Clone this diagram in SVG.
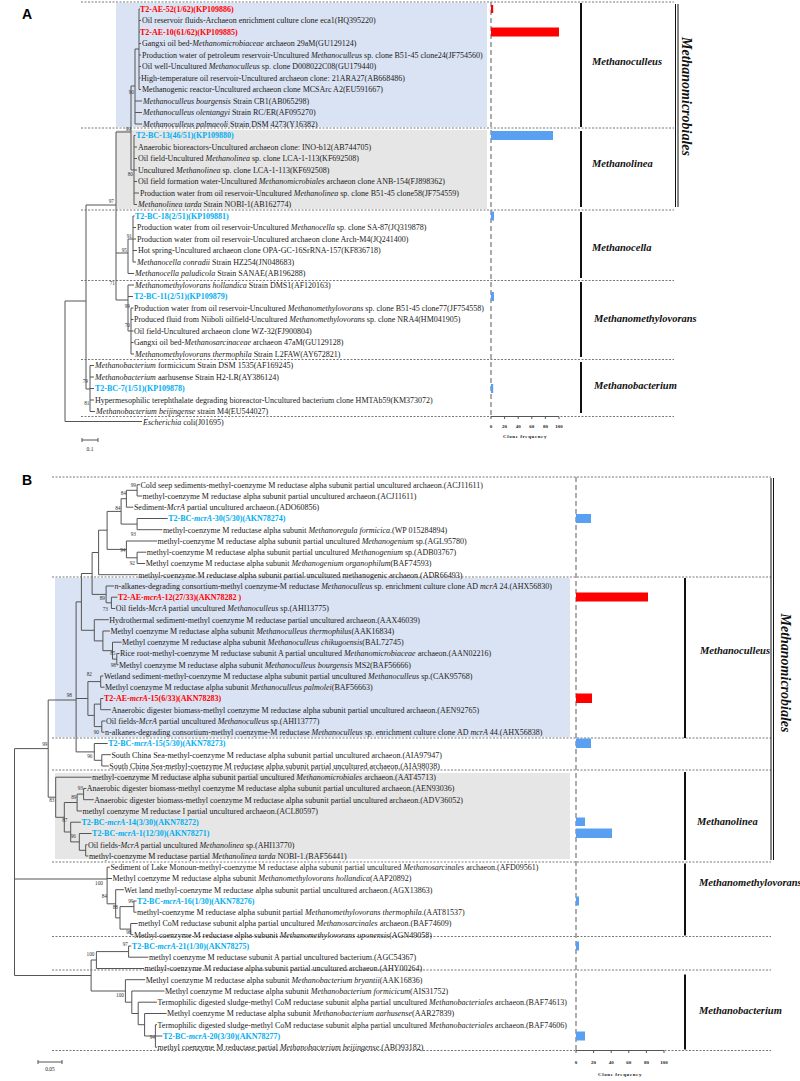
<svg xmlns="http://www.w3.org/2000/svg" width="800" height="1081" viewBox="0 0 800 1081">
<style>
text{font-family:"Liberation Serif","Times New Roman",serif;fill:#1a1a1a}
.t{font-size:8px}
.i{font-style:italic}
.r{fill:#ff0000;font-weight:bold}
.c{fill:#00aeef;font-weight:bold}
.bs{font-size:5.3px;text-anchor:end;fill:#333}
.g{font-size:10.5px;font-weight:bold;font-style:italic;fill:#111}
.ord{font-size:14px;font-weight:bold;font-style:italic;fill:#111}
.pl{font-family:"Liberation Sans",Arial,sans-serif;font-size:14px;font-weight:bold;fill:#000}
.ax{font-size:5px;font-weight:bold;text-anchor:middle;fill:#222}
.tree{fill:none;stroke:#555;stroke-width:1}
.dash{stroke:#555;stroke-width:0.8;stroke-dasharray:2 1.5}
.axis{stroke:#777;stroke-width:1.2;stroke-dasharray:5 3}
.gb{stroke:#111;stroke-width:2}
.bb{fill:#5aa0f2}
.rb{fill:#ff0000}
.blue{fill:#dae3f3}
.gray{fill:#e6e6e6}
</style>

<!-- backgrounds -->
<rect class="blue" x="116" y="3" width="371" height="124"/>
<rect class="gray" x="116" y="130" width="371" height="79"/>
<rect class="blue" x="55" y="578" width="515" height="159"/>
<rect class="gray" x="55" y="773" width="515" height="86"/>

<!-- panel labels -->
<text class="pl" x="22" y="19">A</text>
<text class="pl" x="22" y="485">B</text>

<!-- dashed separators -->
<g id="separators">
<path class="dash" d="M81 2H674M81 128H674M81 210H674M81 280.5H674M81 359.5H674M81 416.5H674"/>
<path class="dash" d="M52 477H771M52 577H771M52 738H771M52 770H771M52 862H771M52 936.5H771M52 970H771M52 1050.5H771"/>
</g>

<!-- connectors -->
<g id="connectors">
<path class="tree" d="M139 9V89.5M139 9H140M139 20.5H141M139 32H140M139 43.5H141M139 55H141M139 66.5H141M139 78H140.5M139 89.5H141
M135 49V124M135 49H139M135 101H142M135 112.5H142M135 124H142
M131 86V170M131 86H135M131 170H134
M134 135.5V204.5M134 135.5H135.5M134 147H137M134 158.5H137M134 170H137M134 181.5H137M134 193H139M134 204.5H137
M133 216V262M133 216H134.5M133 227.5H136M133 239H136M133 250.5H137M133 262H136
M128 239V273.5M128 239H133M128 273.5H134
M131 308V354M131 308H133.5M131 319.5H133.5M131 331H133.5M131 342.5H133.5M131 354H134
M128 285V331M128 285H134M128 296.5H133M128 331H131
M116 132V300M116 132H131M116 253H128M116 300H128
M90 365.5V411.5M90 365.5H94M90 377H94M90 388.5H94M90 400H94M90 411.5H95
M86 205V389M86 205H116M86 389H90
M65 301V421.5M65 301H86M65 421.5H142"/>
<path class="tree" d="M137.1 484.7V496M137.1 484.7H139.9M137.1 496H142
M126.4 490.3V507.2M126.4 490.3H137.1M126.4 507.2H133.4
M137.1 518.5V529.7M137.1 518.5H167.7M137.1 529.7H162.4
M121.1 498.7V524.1M121.1 498.7H126.4M121.1 524.1H137.1
M137.1 552.2V563.5M137.1 552.2H146.3M137.1 563.5H145.2
M126.4 541V557.8M126.4 541H157M126.4 557.8H137.1
M107.1 511.4V549.4M107.1 511.4H121.1M107.1 549.4H126.4
M98.6 530.2V574.7M98.6 530.2H107.1M98.6 574.7H137.7
M111.4 597.2V608.5M111.4 597.2H117.4M111.4 608.5H115.2
M106.1 586V602.8M106.1 586H114.1M106.1 602.8H111.4
M92.1 552.5V594.4M92.1 552.5H98.6M92.1 594.4H106.1
M116.8 653.5V664.7M116.8 653.5H119.5M116.8 664.7H118.4
M112.5 642.2V659.1M112.5 642.2H121.6M112.5 659.1H116.8
M102.9 631V650.7M102.9 631H109.9M102.9 650.7H112.5
M94.3 619.7V640.9M94.3 619.7H108.8M94.3 640.9H102.9
M81.4 573.5V630.3M81.4 573.5H92.1M81.4 630.3H94.3
M100.7 676V687.2M100.7 676H103.4M100.7 687.2H104.5
M100.7 698.5V709.7M100.7 698.5H103.4M100.7 709.7H110.9
M101.8 721V732.2M101.8 721H105.6M101.8 732.2H104.5
M94.3 704.1V726.6M94.3 704.1H100.7M94.3 726.6H101.8
M87.9 681.6V715.4M87.9 681.6H100.7M87.9 715.4H94.3
M101.8 754.7V766M101.8 754.7H110.9M101.8 766H108.8
M94.3 743.5V760.3M94.3 743.5H107.7M94.3 760.3H101.8
M76.1 601.9V751.9M76.1 601.9H81.4M76.1 698.5H87.9M76.1 751.9H94.3
M83.6 788.5V799.7M83.6 788.5H86.3M83.6 799.7H93.8
M77.1 794.1V811M77.1 794.1H83.6M77.1 811H82
M85.7 844.7V856M85.7 844.7H87.4M85.7 856H88.4
M79.3 833.5V850.3M79.3 833.5H91.6M79.3 850.3H85.7
M70.7 822.2V841.9M70.7 822.2H80.9M70.7 841.9H79.3
M64.3 802.5V832M64.3 802.5H77.1M64.3 832H70.7
M55.7 777.2V817.3M55.7 777.2H91.6M55.7 817.3H64.3
M48.2 700V797.2M48.2 700H76.1M48.2 797.2H55.7
M133.9 901V912.2M133.9 901H136.6M133.9 912.2H136.6
M130.7 923.5V934.7M130.7 923.5H137.7M130.7 934.7H133.4
M120 906.6V929.1M120 906.6H133.9M120 929.1H130.7
M115.7 889.7V917.9M115.7 889.7H123.8M115.7 917.9H120
M107.1 867.2V903.8M107.1 867.2H109.9M107.1 878.5H112M107.1 903.8H115.7
M128.6 946V957.2M128.6 946H131.3M128.6 957.2H148.4
M96.4 951.6V968.5M96.4 951.6H128.6M96.4 968.5H144.1
M155.4 1024.7V1047.2M155.4 1024.7H157M155.4 1036H162.4M155.4 1047.2H157
M144.6 1013.5V1036M144.6 1013.5H166.6M144.6 1036H155.4
M138.2 1002.2V1024.7M138.2 1002.2H157M138.2 1024.7H144.6
M131.8 991V1013.5M131.8 991H164.5M131.8 1013.5H138.2
M125.4 979.7V1002.2M125.4 979.7H145.2M125.4 1002.2H131.8
M91.1 960V991M91.1 960H96.4M91.1 991H125.4
M14.5 748.6V975.5M14.5 748.6H48.2M14.5 879H107.1M14.5 975.5H91.1"/>
</g>

<!-- bootstrap values -->
<g id="bootstrap">
<text class="bs" x="134" y="94">90</text>
<text class="bs" x="131" y="130.5">99</text>
<text class="bs" x="133" y="175.5">80</text>
<text class="bs" x="114" y="203">97</text>
<text class="bs" x="132" y="237.5">91</text>
<text class="bs" x="127" y="251.5">95</text>
<text class="bs" x="115" y="285">71</text>
<text class="bs" x="130" y="307.5">99</text>
<text class="bs" x="130" y="327">70</text>
<text class="bs" x="88" y="383">79</text>
<text class="bs" x="89.5" y="405">81</text>
<text class="bs" x="136" y="487">99</text>
<text class="bs" x="126" y="495">84</text>
<text class="bs" x="120.5" y="509.5">84</text>
<text class="bs" x="136" y="536">93</text>
<text class="bs" x="125.5" y="552">94</text>
<text class="bs" x="135" y="565">92</text>
<text class="bs" x="105" y="599.5">89</text>
<text class="bs" x="108" y="611">73</text>
<text class="bs" x="115.5" y="655">85</text>
<text class="bs" x="116" y="667">98</text>
<text class="bs" x="92" y="676">82</text>
<text class="bs" x="99" y="734">90</text>
<text class="bs" x="72" y="697">98</text>
<text class="bs" x="47.5" y="746">99</text>
<text class="bs" x="92.5" y="758">96</text>
<text class="bs" x="83" y="790">93</text>
<text class="bs" x="76.5" y="799">89</text>
<text class="bs" x="54.5" y="802">83</text>
<text class="bs" x="67.5" y="822">87</text>
<text class="bs" x="76" y="838">96</text>
<text class="bs" x="103" y="885">100</text>
<text class="bs" x="107" y="898">84</text>
<text class="bs" x="118" y="909">88</text>
<text class="bs" x="133.5" y="902.5">99</text>
<text class="bs" x="131.5" y="934">98</text>
<text class="bs" x="128" y="946">97</text>
<text class="bs" x="94.5" y="956">100</text>
<text class="bs" x="124" y="997">100</text>
<text class="bs" x="155" y="1039">94</text>
</g>

<!-- Panel A leaves -->
<g id="A0"><text class="t r" x="140" y="11.8">T2-AE-52(1/62)(KP109886)</text></g>
<g id="A1"><text class="t" x="142" y="23.3">Oil reservoir fluids-Archaeon enrichment culture clone eca1(HQ395220)</text></g>
<g id="A2"><text class="t r" x="140" y="34.8">T2-AE-10(61/62)(KP109885)</text></g>
<g id="A3"><text class="t" x="142" y="46.3">Gangxi oil bed-<tspan class="i">Methanomicrobiaceae</tspan> archaeon 29aM(GU129124)</text></g>
<g id="A4"><text class="t" x="142" y="57.8">Production water of petroleum reservoir-Uncultured <tspan class="i">Methanoculleus</tspan> sp. clone B51-45 clone24(JF754560)</text></g>
<g id="A5"><text class="t" x="142" y="69.3">Oil well-Uncultured <tspan class="i">Methanoculleus</tspan> sp. clone D008022C08(GU179440)</text></g>
<g id="A6"><text class="t" x="141" y="80.8">High-temperature oil reservoir-Uncultured archaeon clone: 21ARA27(AB668486)</text></g>
<g id="A7"><text class="t" x="142" y="92.3">Methanogenic reactor-Uncultured archaeon clone MCSArc A2(EU591667)</text></g>
<g id="A8"><text class="t" x="143" y="103.8"><tspan class="i">Methanoculleus bourgensis</tspan> Strain CB1(AB065298)</text></g>
<g id="A9"><text class="t" x="143" y="115.3"><tspan class="i">Methanoculleus olentangyi</tspan> Strain RC/ER(AF095270)</text></g>
<g id="A10"><text class="t" x="143" y="126.8"><tspan class="i">Methanoculleus palmaeoli</tspan> Strain DSM 4273(Y16382)</text></g>
<g id="A11"><text class="t c" x="136" y="138.3">T2-BC-13(46/51)(KP109880)</text></g>
<g id="A12"><text class="t" x="138" y="149.8">Anaerobic bioreactors-Uncultured archaeon clone: INO-b12(AB744705)</text></g>
<g id="A13"><text class="t" x="138" y="161.3">Oil field-Uncultured <tspan class="i">Methanolinea</tspan> sp. clone LCA-1-113(KF692508)</text></g>
<g id="A14"><text class="t" x="138" y="172.8">Uncultured <tspan class="i">Methanolinea</tspan> sp. clone LCA-1-113(KF692508)</text></g>
<g id="A15"><text class="t" x="138" y="184.3">Oil field formation water-Uncultured <tspan class="i">Methanomicrobiales</tspan> archaeon clone ANB-154(FJ898362)</text></g>
<g id="A16"><text class="t" x="140" y="195.8">Production water from oil reservoir-Uncultured <tspan class="i">Methanolinea</tspan> sp. clone B51-45 clone58(JF754559)</text></g>
<g id="A17"><text class="t" x="138" y="207.3"><tspan class="i">Methanolinea tarda</tspan> Strain NOBI-1(AB162774)</text></g>
<g id="A18"><text class="t c" x="135" y="218.8">T2-BC-18(2/51)(KP109881)</text></g>
<g id="A19"><text class="t" x="137" y="230.3">Production water from oil reservoir-Uncultured <tspan class="i">Methanocella</tspan> sp. clone SA-87(JQ319878)</text></g>
<g id="A20"><text class="t" x="137" y="241.8">Production water from oil reservoir-Uncultured archaeon clone Arch-M4(JQ241400)</text></g>
<g id="A21"><text class="t" x="138" y="253.3">Hot spring-Uncultured archaeon clone OPA-GC-16SrRNA-157(KF836718)</text></g>
<g id="A22"><text class="t" x="137" y="264.8"><tspan class="i">Methanocella conradii</tspan> Strain HZ254(JN048683)</text></g>
<g id="A23"><text class="t" x="135" y="276.3"><tspan class="i">Methanocella paludicola</tspan> Strain SANAE(AB196288)</text></g>
<g id="A24"><text class="t" x="135" y="287.8"><tspan class="i">Methanomethylovorans hollandica</tspan> Strain DMS1(AF120163)</text></g>
<g id="A25"><text class="t c" x="134" y="299.3">T2-BC-11(2/51)(KP109879)</text></g>
<g id="A26"><text class="t" x="134" y="310.8">Production water from oil reservoir-Uncultured <tspan class="i">Methanomethylovorans</tspan> sp. clone B51-45 clone77(JF754558)</text></g>
<g id="A27"><text class="t" x="134" y="322.3">Produced fluid from Niiboli oilfield-Uncultured <tspan class="i">Methanomethylovorans</tspan> sp. clone NRA4(HM041905)</text></g>
<g id="A28"><text class="t" x="134" y="333.8">Oil field-Uncultured archaeon clone WZ-32(FJ900804)</text></g>
<g id="A29"><text class="t" x="134" y="345.3">Gangxi oil bed-<tspan class="i">Methanosarcinaceae</tspan> archaeon 47aM(GU129128)</text></g>
<g id="A30"><text class="t" x="135" y="356.8"><tspan class="i">Methanomethylovorans thermophila</tspan> Strain L2FAW(AY672821)</text></g>
<g id="A31"><text class="t" x="95" y="368.3"><tspan class="i">Methanobacterium</tspan> formicicum Strain DSM 1535(AF169245)</text></g>
<g id="A32"><text class="t" x="95" y="379.8"><tspan class="i">Methanobacterium</tspan> aarhusense Strain H2-LR(AY386124)</text></g>
<g id="A33"><text class="t c" x="95" y="391.3">T2-BC-7(1/51)(KP109878)</text></g>
<g id="A34"><text class="t" x="95" y="402.8">Hypermesophilic terephthalate degrading bioreactor-Uncultured bacterium clone HMTAb59(KM373072)</text></g>
<g id="A35"><text class="t" x="96" y="414.3"><tspan class="i">Methanobacterium beijingense</tspan> strain M4(EU544027)</text></g>
<g id="A36"><text class="t" x="143" y="424.7"><tspan class="i">Escherichia</tspan> coli(J01695)</text></g>

<!-- Panel B leaves -->
<g id="B0"><text class="t" x="140.4" y="487.5">Cold seep sediments-methyl-coenzyme M reductase alpha subunit partial uncultured archaeon.(ACJ11611)</text></g>
<g id="B1"><text class="t" x="142.5" y="498.8">methyl-coenzyme M reductase alpha subunit partial uncultured archaeon.(ACJ11611)</text></g>
<g id="B2"><text class="t" x="133.9" y="510">Sediment-<tspan class="i">McrA</tspan> partial uncultured archaeon.(ADO60856)</text></g>
<g id="B3"><text class="t c" x="168.2" y="521.3">T2-BC-<tspan class="i">mcrA</tspan>-30(5/30)(AKN78274)</text></g>
<g id="B4"><text class="t" x="162.9" y="532.5">methyl-coenzyme M reductase alpha subunit <tspan class="i">Methanoregula formicica</tspan>.(WP 015284894)</text></g>
<g id="B5"><text class="t" x="157.5" y="543.8">methyl-coenzyme M reductase alpha subunit partial uncultured <tspan class="i">Methanogenium</tspan> sp.(AGL95780)</text></g>
<g id="B6"><text class="t" x="146.8" y="555">methyl-coenzyme M reductase alpha subunit partial uncultured <tspan class="i">Methanogenium</tspan> sp.(ADB03767)</text></g>
<g id="B7"><text class="t" x="145.7" y="566.3">Methyl coenzyme M reductase alpha subunit <tspan class="i">Methanogenium organophilum</tspan>(BAF74593)</text></g>
<g id="B8"><text class="t" x="138.2" y="577.5">methyl-coenzyme M reductase alpha subunit partial uncultured methanogenic archaeon.(ADR66493)</text></g>
<g id="B9"><text class="t" x="114.6" y="588.8"><tspan class="i">n</tspan>-alkanes-degrading consortium-methyl coenzyme-M reductase <tspan class="i">Methanoculleus</tspan> sp. enrichment culture clone AD <tspan class="i">mcrA</tspan> 24.(AHX56830)</text></g>
<g id="B10"><text class="t r" x="117.9" y="600">T2-AE-<tspan class="i">mcrA</tspan>-12(27/33)(AKN78282 )</text></g>
<g id="B11"><text class="t" x="115.7" y="611.3">Oil fields-<tspan class="i">McrA</tspan> partial uncultured <tspan class="i">Methanoculleus</tspan> sp.(AHI13775)</text></g>
<g id="B12"><text class="t" x="109.3" y="622.5">Hydrothermal sediment-methyl coenzyme M reductase partial uncultured archaeon.(AAX46039)</text></g>
<g id="B13"><text class="t" x="110.4" y="633.8">Methyl coenzyme M reductase alpha subunit <tspan class="i">Methanoculleus thermophilus</tspan>(AAK16834)</text></g>
<g id="B14"><text class="t" x="122.1" y="645">Methyl coenzyme M reductase alpha subunit <tspan class="i">Methanoculleus chikugoensis</tspan>(BAL72745)</text></g>
<g id="B15"><text class="t" x="120" y="656.3">Rice root-methyl-coenzyme M reductase subunit A partial uncultured <tspan class="i">Methanomicrobiaceae</tspan> archaeon.(AAN02216)</text></g>
<g id="B16"><text class="t" x="118.9" y="667.5">Methyl coenzyme M reductase alpha subunit <tspan class="i">Methanoculleus bourgensis</tspan> MS2(BAF56666)</text></g>
<g id="B17"><text class="t" x="103.9" y="678.8">Wetland sediment-methyl-coenzyme M reductase alpha subunit partial uncultured <tspan class="i">Methanoculleus</tspan> sp.(CAK95768)</text></g>
<g id="B18"><text class="t" x="105" y="690">Methyl coenzyme M reductase alpha subunit <tspan class="i">Methanoculleus palmolei</tspan>(BAF56663)</text></g>
<g id="B19"><text class="t r" x="103.9" y="701.3">T2-AE-<tspan class="i">mcrA</tspan>-15(6/33)(AKN78283)</text></g>
<g id="B20"><text class="t" x="111.4" y="712.5">Anaerobic digester biomass-methyl coenzyme M reductase alpha subunit partial uncultured archaeon.(AEN92765)</text></g>
<g id="B21"><text class="t" x="106.1" y="723.8">Oil fields-<tspan class="i">McrA</tspan> partial uncultured <tspan class="i">Methanoculleus</tspan> sp.(AHI13777)</text></g>
<g id="B22"><text class="t" x="105" y="735">n-alkanes-degrading consortium-methyl coenzyme-M reductase <tspan class="i">Methanoculleus</tspan> sp. enrichment culture clone AD <tspan class="i">mcrA</tspan> 44.(AHX56838)</text></g>
<g id="B23"><text class="t c" x="108.2" y="746.3">T2-BC-<tspan class="i">mcrA</tspan>-15(5/30)(AKN78273)</text></g>
<g id="B24"><text class="t" x="111.4" y="757.5">South China Sea-methyl-coenzyme M reductase alpha subunit partial uncultured archaeon.(AIA97947)</text></g>
<g id="B25"><text class="t" x="109.3" y="768.8">South China Sea-methyl-coenzyme M reductase alpha subunit partial uncultured archaeon.(AIA98038)</text></g>
<g id="B26"><text class="t" x="92.1" y="780">methyl-coenzyme M reductase alpha subunit partial uncultured <tspan class="i">Methanomicrobiales</tspan> archaeon.(AAT45713)</text></g>
<g id="B27"><text class="t" x="86.8" y="791.3">Anaerobic digester biomass-methyl coenzyme M reductase alpha subunit partial uncultured archaeon.(AEN93036)</text></g>
<g id="B28"><text class="t" x="94.3" y="802.5">Anaerobic digester biomass-methyl coenzyme M reductase alpha subunit partial uncultured archaeon.(ADV36052)</text></g>
<g id="B29"><text class="t" x="82.5" y="813.8">methyl coenzyme M reductase I partial uncultured archaeon.(ACL80597)</text></g>
<g id="B30"><text class="t c" x="81.4" y="825">T2-BC-<tspan class="i">mcrA</tspan>-14(3/30)(AKN78272)</text></g>
<g id="B31"><text class="t c" x="92.1" y="836.3">T2-BC-<tspan class="i">mcrA</tspan>-1(12/30)(AKN78271)</text></g>
<g id="B32"><text class="t" x="87.9" y="847.5">Oil fields-<tspan class="i">McrA</tspan> partial uncultured <tspan class="i">Methanolinea</tspan> sp.(AHI13770)</text></g>
<g id="B33"><text class="t" x="88.9" y="858.8">methyl-coenzyme M reductase partial <tspan class="i">Methanolinea tarda</tspan> NOBI-1.(BAF56441)</text></g>
<g id="B34"><text class="t" x="110.4" y="870">Sediment of Lake Monoun-methyl-coenzyme M reductase alpha subunit partial uncultured <tspan class="i">Methanosarcinales</tspan> archaeon.(AFD09561)</text></g>
<g id="B35"><text class="t" x="112.5" y="881.3">Methyl coenzyme M reductase alpha subunit <tspan class="i">Methanomethylovorans hollandica</tspan>(AAP20892)</text></g>
<g id="B36"><text class="t" x="124.3" y="892.5">Wet land methyl-coenzyme M reductase alpha subunit partial uncultured archaeon.(AGX13863)</text></g>
<g id="B37"><text class="t c" x="137.1" y="903.8">T2-BC-<tspan class="i">mcrA</tspan>-16(1/30)(AKN78276)</text></g>
<g id="B38"><text class="t" x="137.1" y="915">methyl-coenzyme M reductase alpha subunit partial <tspan class="i">Methanomethylovorans thermophila</tspan>.(AAT81537)</text></g>
<g id="B39"><text class="t" x="138.2" y="926.3">methyl CoM reductase subunit alpha partial uncultured <tspan class="i">Methanosarcinales</tspan> archaeon.(BAF74609)</text></g>
<g id="B40"><text class="t" x="133.9" y="937.5">Methyl coenzyme M reductase alpha subunit <tspan class="i">Methanomethylovorans uponensis</tspan>(AGN49058)</text></g>
<g id="B41"><text class="t c" x="131.8" y="948.8">T2-BC-<tspan class="i">mcrA</tspan>-21(1/30)(AKN78275)</text></g>
<g id="B42"><text class="t" x="148.9" y="960">methyl coenzyme M reductase subunit A partial uncultured bacterium.(AGC54367)</text></g>
<g id="B43"><text class="t" x="144.6" y="971.3">methyl-coenzyme M reductase alpha subunit partial uncultured archaeon.(AHY00264)</text></g>
<g id="B44"><text class="t" x="145.7" y="982.5">Methyl coenzyme M reductase alpha subunit <tspan class="i">Methanobacterium bryantii</tspan>(AAK16836)</text></g>
<g id="B45"><text class="t" x="165" y="993.8">Methyl coenzyme M reductase alpha subunit <tspan class="i">Methanobacterium formicicum</tspan>(AIS31752)</text></g>
<g id="B46"><text class="t" x="157.5" y="1005">Termophilic digested sludge-methyl CoM reductase subunit alpha partial uncultured <tspan class="i">Methanobacteriales</tspan> archaeon.(BAF74613)</text></g>
<g id="B47"><text class="t" x="167.1" y="1016.3">Methyl coenzyme M reductase alpha subunit <tspan class="i">Methanobacterium aarhusense</tspan>(AAR27839)</text></g>
<g id="B48"><text class="t" x="157.5" y="1027.5">Termophilic digested sludge-methyl CoM reductase subunit alpha partial uncultured <tspan class="i">Methanobacteriales</tspan> archaeon.(BAF74606)</text></g>
<g id="B49"><text class="t c" x="162.9" y="1038.8">T2-BC-<tspan class="i">mcrA</tspan>-20(3/30)(AKN78277)</text></g>
<g id="B50"><text class="t" x="157.5" y="1050">methyl coenzyme M reductase partial <tspan class="i">Methanobacterium beijingense</tspan>.(ABO93182)</text></g>

<!-- scale bars -->
<g id="scaleA">
<path class="tree" d="M82 440H98M82 438V442M98 438V442"/>
<text class="ax" x="90" y="451" style="font-weight:normal;font-size:5.5px">0.1</text>
</g>
<g id="scaleB">
<path class="tree" d="M38 1062H62M38 1060V1064M62 1060V1064"/>
<text class="ax" x="50" y="1071" style="font-weight:normal;font-size:5.5px">0.05</text>
</g>

<!-- clone frequency chart A -->
<g id="chartA">
<path class="axis" d="M491 2V416"/>
<rect class="rb" x="491" y="5" width="2.2" height="8"/>
<rect class="rb" x="491" y="27.5" width="68" height="9"/>
<rect class="bb" x="491" y="131" width="62" height="9"/>
<rect class="bb" x="491" y="211.5" width="3" height="9"/>
<rect class="bb" x="491" y="292" width="3" height="9"/>
<rect class="bb" x="491" y="384" width="2.2" height="9"/>
<path class="tree" d="M491 416.5H559M491 416.5V419M504.6 416.5V419M518.2 416.5V419M531.8 416.5V419M545.4 416.5V419M559 416.5V419"/>
<text class="ax" x="491" y="428">0</text>
<text class="ax" x="504.6" y="428">20</text>
<text class="ax" x="518.2" y="428">40</text>
<text class="ax" x="531.8" y="428">60</text>
<text class="ax" x="545.4" y="428">80</text>
<text class="ax" x="559" y="428">100</text>
<text class="ax" x="525" y="438" style="letter-spacing:0.6px">Clone frequency</text>
</g>

<!-- clone frequency chart B -->
<g id="chartB">
<path class="axis" d="M576 477V1050"/>
<rect class="bb" x="576" y="514" width="15" height="9"/>
<rect class="rb" x="576" y="592.5" width="72" height="9"/>
<rect class="rb" x="576" y="693.5" width="16" height="9.5"/>
<rect class="bb" x="576" y="738.5" width="15" height="9.5"/>
<rect class="bb" x="576" y="817.5" width="9" height="8.5"/>
<rect class="bb" x="576" y="828.5" width="36" height="9.5"/>
<rect class="bb" x="576" y="896.5" width="3" height="9"/>
<rect class="bb" x="576" y="941.5" width="3" height="9"/>
<rect class="bb" x="576" y="1031.5" width="9" height="9"/>
<path class="tree" d="M576 1050.5H664M576 1050.5V1053M593.6 1050.5V1053M611.2 1050.5V1053M628.8 1050.5V1053M646.4 1050.5V1053M664 1050.5V1053"/>
<text class="ax" x="576" y="1064">0</text>
<text class="ax" x="593.6" y="1064">20</text>
<text class="ax" x="611.2" y="1064">40</text>
<text class="ax" x="628.8" y="1064">60</text>
<text class="ax" x="646.4" y="1064">80</text>
<text class="ax" x="664" y="1064">100</text>
<text class="ax" x="620" y="1076" style="letter-spacing:0.6px">Clone frequency</text>
</g>

<!-- genus brackets A -->
<g id="genusA">
<path class="gb" d="M581 3V127M581 131V207M581 212V278M581 282V357M581 362V413"/>
<text class="g" x="592" y="64.5">Methanoculleus</text>
<text class="g" x="592" y="167">Methanolinea</text>
<text class="g" x="592" y="250.5">Methanocella</text>
<text class="g" x="594" y="321.5">Methanomethylovorans</text>
<text class="g" x="594" y="388.5">Methanobacterium</text>
</g>
<g id="orderA">
<path stroke="#111" stroke-width="1" d="M675.5 4V207M678 4V207"/>
<text class="ord" transform="translate(682,96.5) rotate(90)" text-anchor="middle">Methanomicrobiales</text>
</g>

<!-- genus brackets B -->
<g id="genusB">
<path class="gb" d="M685 578V738M685 772V860M685 863.5V935.5M685 974.5V1049.5"/>
<text class="g" x="700" y="653.5">Methanoculleus</text>
<text class="g" x="697" y="824.5">Methanolinea</text>
<text class="g" x="699" y="885.5">Methanomethylovorans</text>
<text class="g" x="699" y="1013.5">Methanobacterium</text>
</g>
<g id="orderB">
<path stroke="#111" stroke-width="1" d="M771 478V860M773.5 478V860"/>
<text class="ord" transform="translate(781,673) rotate(90)" text-anchor="middle">Methanomicrobiales</text>
</g>
</svg>
